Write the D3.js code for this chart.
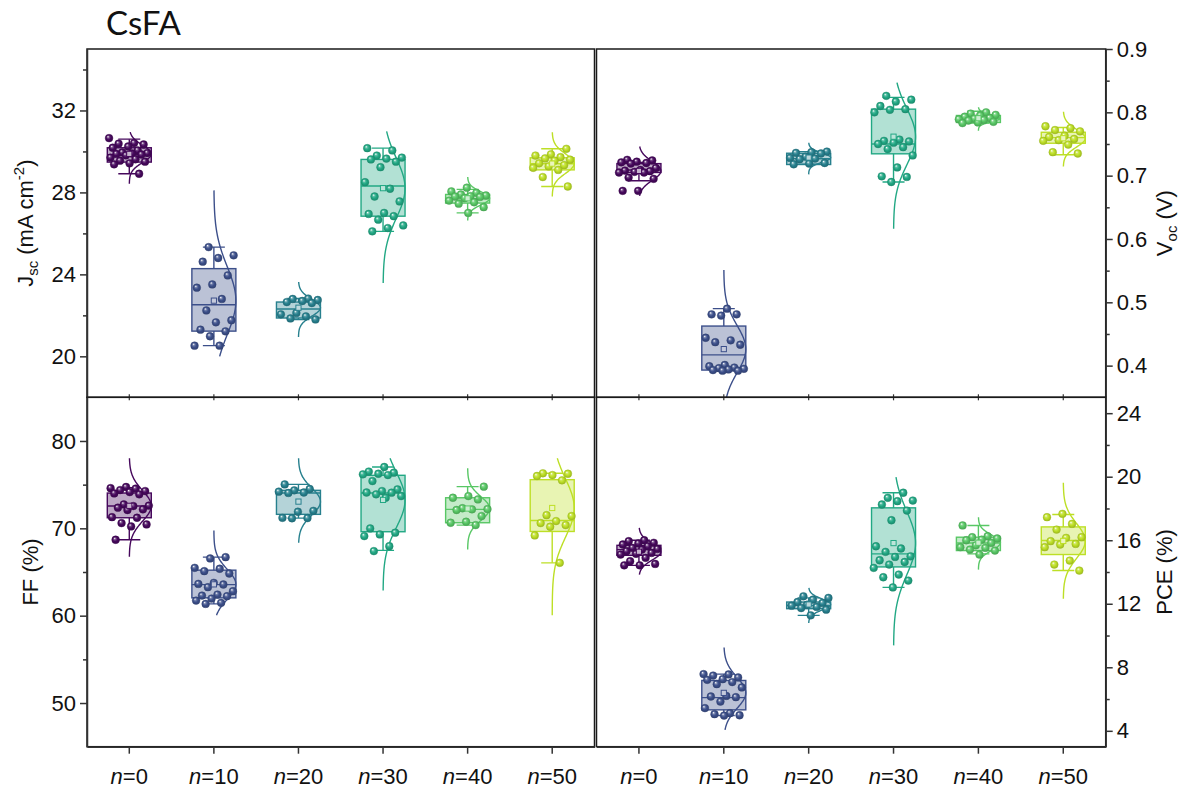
<!DOCTYPE html>
<html><head><meta charset="utf-8">
<script src="https://cdn.jsdelivr.net/npm/d3@7"></script>
<style>body{margin:0;background:#fff}svg{display:block}</style>
</head><body>
<svg id="chart" width="1194" height="796"></svg>
<script>
// ---------------- data ----------------
const categories = ["0","10","20","30","40","50"];

const jscPoints = [
  [30.65,30.41,30.38,30.34,30.24,30.18,30.05,29.95,29.92,29.9,29.88,29.85,29.81,29.7,29.62,29.55,29.5,29.42,29.37,28.91],
  [25.33,24.93,24.8,24.62,23.95,23.51,23.35,22.8,22.24,21.76,21.66,21.3,21.22,20.98,20.52,20.52],
  [22.82,22.8,22.75,22.7,22.65,22.6,22.12,22.05,21.95,21.85,21.8],
  [30.16,30.05,29.8,29.7,29.65,29.61,29.5,29.23,28.5,28.18,27.8,27.56,27.0,26.95,26.84,26.67,26.39,26.26,26.1],
  [28.23,28.05,27.98,27.9,27.85,27.82,27.8,27.78,27.72,27.6,27.52,27.45,27.28,27.0],
  [30.13,29.86,29.8,29.72,29.66,29.6,29.55,29.42,29.33,29.27,29.2,29.1,28.75,28.29]
];
const jscQ1  = [29.48,21.23,21.87,26.84,27.48,29.1];
const jscMed = [29.84,22.52,22.31,28.31,27.69,29.4];
const jscQ3  = [30.18,24.28,22.65,29.61,27.9,29.69];
const jscLo  = [28.91,20.52,21.8,26.1,27.0,28.29];
const jscHi  = [30.6,25.33,22.82,30.16,28.15,30.13];
const jscCurveLo = [28.42,20.0,20.94,23.58,26.63,27.8];
const jscCurveHi = [30.94,28.1,23.63,30.98,28.75,30.94];

const vocPoints = [
  [0.725,0.724,0.722,0.721,0.72,0.719,0.712,0.709,0.708,0.707,0.706,0.705,0.705,0.697,0.695,0.676,0.676],
  [0.49,0.481,0.481,0.479,0.444,0.44,0.437,0.433,0.401,0.399,0.397,0.396,0.395,0.394,0.393,0.392,0.392],
  [0.738,0.737,0.736,0.735,0.73,0.728,0.727,0.726,0.72,0.719,0.718],
  [0.826,0.82,0.817,0.81,0.805,0.804,0.8,0.757,0.755,0.754,0.752,0.75,0.745,0.742,0.732,0.713,0.699,0.698,0.69],
  [0.8,0.798,0.796,0.795,0.793,0.791,0.79,0.789,0.788,0.787,0.785,0.784,0.783],
  [0.778,0.775,0.772,0.77,0.763,0.761,0.758,0.756,0.755,0.749,0.737,0.735]
];
const vocQ1  = [0.705,0.393,0.7176,0.7345,0.784,0.7512];
const vocMed = [0.709,0.417,0.7266,0.750,0.79,0.76];
const vocQ3  = [0.719,0.4625,0.7354,0.805,0.795,0.7685];
const vocLo  = [0.692,0.392,0.718,0.69,0.783,0.733];
const vocHi  = [0.721,0.49,0.738,0.8236,0.8016,0.776];
const vocCurveLo = [0.668,0.30,0.702,0.616,0.771,0.7145];
const vocCurveHi = [0.746,0.551,0.752,0.847,0.808,0.801];

const ffPoints = [
  [74.73,74.6,74.54,74.38,74.27,74.15,74.0,73.89,72.74,72.6,72.55,72.36,72.17,72.1,71.28,71.21,70.6,70.45,70.22,68.69],
  [66.7,66.55,65.48,65.37,65.1,64.83,63.76,63.64,63.57,63.26,62.8,62.42,62.3,62.23,61.96,61.73,61.47,61.35],
  [75.03,74.5,74.35,74.2,74.1,74.05,72.0,71.9,71.2,71.17,71.15],
  [77.02,76.5,76.37,76.25,76.18,76.1,75.41,74.46,74.27,74.1,74.08,73.89,73.69,73.5,69.99,69.5,69.3,69.11,67.96,67.39],
  [74.77,73.69,73.5,73.31,72.3,72.2,72.17,72.1,71.4,70.75,70.64,70.37],
  [76.3,76.25,76.1,75.99,75.49,71.51,71.4,70.83,70.6,70.37,70.18,69.19,66.05]
];
const ffQ1  = [71.21,62.04,71.6,69.61,70.64,69.64];
const ffMed = [72.55,63.56,74.04,74.04,72.17,70.9];
const ffQ3  = [74.04,65.21,74.35,76.07,73.5,75.57];
const ffLo  = [68.69,61.35,71.17,67.47,70.37,66.05];
const ffHi  = [74.65,66.7,75.03,77.02,74.77,76.3];
const ffCurveLo = [66.74,60.05,68.35,62.88,67.58,60.05];
const ffCurveHi = [78.02,69.76,78.02,78.02,76.87,78.02];

const pcePoints = [
  [16.0,15.94,15.84,15.8,15.73,15.62,15.52,15.45,15.41,15.31,15.2,15.15,15.1,14.89,14.68,14.51,14.42,14.42],
  [7.57,7.55,7.48,7.36,7.25,7.21,7.07,6.94,6.73,6.2,6.16,6.12,5.84,5.43,5.11,5.05,4.98,4.96],
  [12.47,12.37,12.26,12.11,12.05,11.94,11.88,11.8,11.73,11.63,11.27],
  [18.99,18.67,18.5,18.46,18.25,17.87,17.26,15.62,15.48,15.27,14.99,14.95,14.74,14.63,14.47,14.26,13.84,13.67,13.46,13.03],
  [16.93,16.25,16.19,16.11,16.04,16.0,15.83,15.68,15.56,15.52,15.41,15.35,15.1],
  [17.66,17.45,17.03,16.67,16.19,16.15,15.94,15.77,15.73,15.56,14.72,14.47,14.09]
];
const pceQ1  = [15.05,5.32,11.69,14.32,15.35,15.1];
const pceMed = [15.41,6.09,11.9,15.14,15.83,15.98];
const pceQ3  = [15.68,7.17,12.11,18.04,16.19,16.84];
const pceLo  = [14.42,4.96,11.27,13.03,15.14,14.09];
const pceHi  = [16.0,7.57,12.37,18.99,16.93,17.62];
const pceCurveLo = [13.84,4.06,10.79,9.38,14.15,12.32];
const pceCurveHi = [16.78,9.25,13.0,19.98,17.45,19.62];

const jscTicks = [20,24,28,32], jscMinor = [22,26,30,34];
const vocTicks = [0.4,0.5,0.6,0.7,0.8,0.9], vocMinor = [0.45,0.55,0.65,0.75,0.85];
const ffTicks = [50,60,70,80], ffMinor = [55,65,75];
const pceTicks = [4,8,12,16,20,24], pceMinor = [6,10,14,18,22];

// ---------------- layout / style ----------------
const svg = d3.select("#chart");
const L1 = 87, R1 = 594.5, L2 = 596.5, R2 = 1105.7, T = 49, M = 397.3, B = 746.7;
const colorT = [0.02,0.24,0.43,0.6,0.74,0.9];
const colors = colorT.map(t => d3.interpolateViridis(t));
const boxW = 44, capW = 22, amp = 22, rPt = 3.9;
const fontAx = "'Liberation Sans', Arial, sans-serif";
const fs = 22;

const defs = svg.append("defs");
colors.forEach((c, i) => {
  const g = defs.append("radialGradient").attr("id", "sph" + i)
    .attr("cx", "50%").attr("cy", "50%").attr("r", "55%").attr("fx", "35%").attr("fy", "30%");
  g.append("stop").attr("offset", "0%").attr("stop-color", "#ffffff");
  g.append("stop").attr("offset", "28%").attr("stop-color", d3.interpolateRgb(c, "#ffffff")(0.25));
  g.append("stop").attr("offset", "55%").attr("stop-color", c);
  g.append("stop").attr("offset", "100%").attr("stop-color", d3.interpolateRgb(c, "#000")(0.2));
});

const panels = [
  {pts: jscPoints, q1: jscQ1, med: jscMed, q3: jscQ3, lo: jscLo, hi: jscHi, cl: jscCurveLo, ch: jscCurveHi,
   dom: [18, 35], ticks: jscTicks, minor: jscMinor, fmt: d3.format("d"), x0: L1, x1: R1, y0: T, y1: M, side: "left"},
  {pts: vocPoints, q1: vocQ1, med: vocMed, q3: vocQ3, lo: vocLo, hi: vocHi, cl: vocCurveLo, ch: vocCurveHi,
   dom: [0.35, 0.9], ticks: vocTicks, minor: vocMinor, fmt: d3.format(".1f"), x0: L2, x1: R2, y0: T, y1: M, side: "right"},
  {pts: ffPoints, q1: ffQ1, med: ffMed, q3: ffQ3, lo: ffLo, hi: ffHi, cl: ffCurveLo, ch: ffCurveHi,
   dom: [45, 85], ticks: ffTicks, minor: ffMinor, fmt: d3.format("d"), x0: L1, x1: R1, y0: M, y1: B, side: "left"},
  {pts: pcePoints, q1: pceQ1, med: pceMed, q3: pceQ3, lo: pceLo, hi: pceHi, cl: pceCurveLo, ch: pceCurveHi,
   dom: [3, 25], ticks: pceTicks, minor: pceMinor, fmt: d3.format("d"), x0: L2, x1: R2, y0: M, y1: B, side: "right"}
];

panels.forEach((p, pi) => {
  const x = d3.scaleBand().domain(categories).range([p.x0, p.x1]).padding(0);
  const y = d3.scaleLinear().domain(p.dom).range([p.y1, p.y0]);
  const cx = c => x(c) + x.bandwidth() / 2;
  const clipId = "clip" + pi;
  defs.append("clipPath").attr("id", clipId).append("rect")
    .attr("x", p.x0).attr("y", p.y0).attr("width", p.x1 - p.x0).attr("height", p.y1 - p.y0);
  const g = svg.append("g").attr("clip-path", `url(#${clipId})`);

  categories.forEach((c, i) => {
    const col = colors[i];
    const X = cx(c);
    const gg = g.append("g");
    gg.append("rect").attr("x", X - boxW / 2).attr("y", y(p.q3[i]))
      .attr("width", boxW).attr("height", y(p.q1[i]) - y(p.q3[i]))
      .attr("fill", col).attr("fill-opacity", 0.35).attr("stroke", col).attr("stroke-width", 1.4);
    gg.append("line").attr("x1", X).attr("x2", X).attr("y1", y(p.q3[i])).attr("y2", y(p.hi[i]))
      .attr("stroke", col).attr("stroke-width", 1.4);
    gg.append("line").attr("x1", X).attr("x2", X).attr("y1", y(p.q1[i])).attr("y2", y(p.lo[i]))
      .attr("stroke", col).attr("stroke-width", 1.4);
    [p.hi[i], p.lo[i]].forEach(v => gg.append("line")
      .attr("x1", X - capW / 2).attr("x2", X + capW / 2).attr("y1", y(v)).attr("y2", y(v))
      .attr("stroke", col).attr("stroke-width", 1.4));
    gg.append("line").attr("x1", X - boxW / 2).attr("x2", X + boxW / 2)
      .attr("y1", y(p.med[i])).attr("y2", y(p.med[i])).attr("stroke", col).attr("stroke-width", 1.4);
    const vals = p.pts[i];
    const m = d3.mean(vals), s = d3.deviation(vals);
    const steps = d3.range(0, 121).map(k => p.cl[i] + (p.ch[i] - p.cl[i]) * k / 120);
    const line = d3.line().x(v => X + amp * Math.exp(-0.5 * ((v - m) / s) ** 2)).y(v => y(v)).curve(d3.curveBasis);
    gg.append("path").attr("d", line(steps)).attr("fill", "none").attr("stroke", col).attr("stroke-width", 1.4);
    vals.forEach((v, k) => {
      const frac = ((k * 0.6180339 + i * 0.37 + pi * 0.21) % 1) - 0.5;
      gg.append("circle").attr("cx", X + frac * boxW * 0.92).attr("cy", y(v)).attr("r", rPt)
        .attr("fill", `url(#sph${i})`).attr("stroke", d3.interpolateRgb(col, "#000")(0.15)).attr("stroke-width", 0.4);
    });
    gg.append("rect").attr("x", X - 2.6).attr("y", y(m) - 2.6).attr("width", 5.2).attr("height", 5.2)
      .attr("fill", d3.interpolateRgb(col, "#fff")(0.7)).attr("stroke", col).attr("stroke-width", 1);
  });

  svg.append("rect").attr("x", p.x0).attr("y", p.y0).attr("width", p.x1 - p.x0).attr("height", p.y1 - p.y0)
    .attr("fill", "none").attr("stroke", "#1a1a1a").attr("stroke-width", 1.5);

  const axisX = p.side === "left" ? p.x0 : p.x1;
  const ax = p.side === "left" ? d3.axisLeft(y) : d3.axisRight(y);
  const ga = svg.append("g").attr("transform", `translate(${axisX},0)`)
    .call(ax.tickValues(p.ticks).tickFormat(p.fmt).tickSizeOuter(0).tickSizeInner(7).tickPadding(4));
  ga.select(".domain").attr("stroke", "#333").attr("stroke-width", 1.5);
  ga.selectAll(".tick line").attr("stroke", "#333").attr("stroke-width", 1.5);
  ga.selectAll("text").attr("font-family", fontAx).attr("font-size", fs).attr("fill", "#111");
  const gm = svg.append("g").attr("transform", `translate(${axisX},0)`)
    .call((p.side === "left" ? d3.axisLeft(y) : d3.axisRight(y)).tickValues(p.minor).tickFormat("").tickSizeOuter(0).tickSizeInner(4));
  gm.select(".domain").remove();
  gm.selectAll(".tick line").attr("stroke", "#333").attr("stroke-width", 1.5);

  if (p.y1 === B) {
    const gx = svg.append("g").attr("transform", `translate(0,${B})`)
      .call(d3.axisBottom(x).tickSizeOuter(0).tickSizeInner(7).tickFormat(""));
    gx.select(".domain").attr("stroke", "#333").attr("stroke-width", 1.5);
    gx.selectAll(".tick line").attr("stroke", "#333").attr("stroke-width", 1.5);
    gx.selectAll(".tick").append("text").attr("y", 37).attr("text-anchor", "middle")
      .attr("font-family", fontAx).attr("font-size", fs).attr("fill", "#111")
      .each(function (c) {
        const t = d3.select(this);
        t.append("tspan").attr("font-style", "italic").text("n");
        t.append("tspan").text("=" + c);
      });
  } else {
    const gx = svg.append("g").attr("transform", `translate(0,${M - 3})`)
      .call(d3.axisBottom(x).tickSizeOuter(0).tickSizeInner(6).tickFormat(""));
    gx.select(".domain").remove();
    gx.selectAll(".tick line").attr("stroke", "#333").attr("stroke-width", 1.2);
  }
});

function vtitle(xp, yp, parts) {
  const t = svg.append("text").attr("transform", `translate(${xp},${yp}) rotate(-90)`)
    .attr("text-anchor", "middle").attr("font-family", fontAx).attr("font-size", fs).attr("fill", "#111");
  parts.forEach(([txt, kind]) => {
    const s = t.append("tspan").text(txt);
    if (kind === "sub") s.attr("font-size", 15).attr("dy", 5);
    if (kind === "resub") s.attr("dy", -5);
    if (kind === "sup") s.attr("font-size", 15).attr("dy", -9);
    if (kind === "resup") s.attr("dy", 9);
  });
}
vtitle(33, (T + M) / 2, [["J", ""], ["sc", "sub"], [" (mA cm", "resub"], ["-2", "sup"], [")", "resup"]]);
vtitle(38, (M + B) / 2, [["FF (%)", ""]]);
vtitle(1172, (T + M) / 2, [["V", ""], ["oc", "sub"], [" (V)", "resub"]]);
vtitle(1172, (M + B) / 2, [["PCE (%)", ""]]);

svg.append("text").attr("x", 106).attr("y", 35).attr("font-family", "Lato, 'Open Sans', sans-serif")
  .attr("font-size", 33).attr("fill", "#111").text("CsFA");
</script>
</body></html>
